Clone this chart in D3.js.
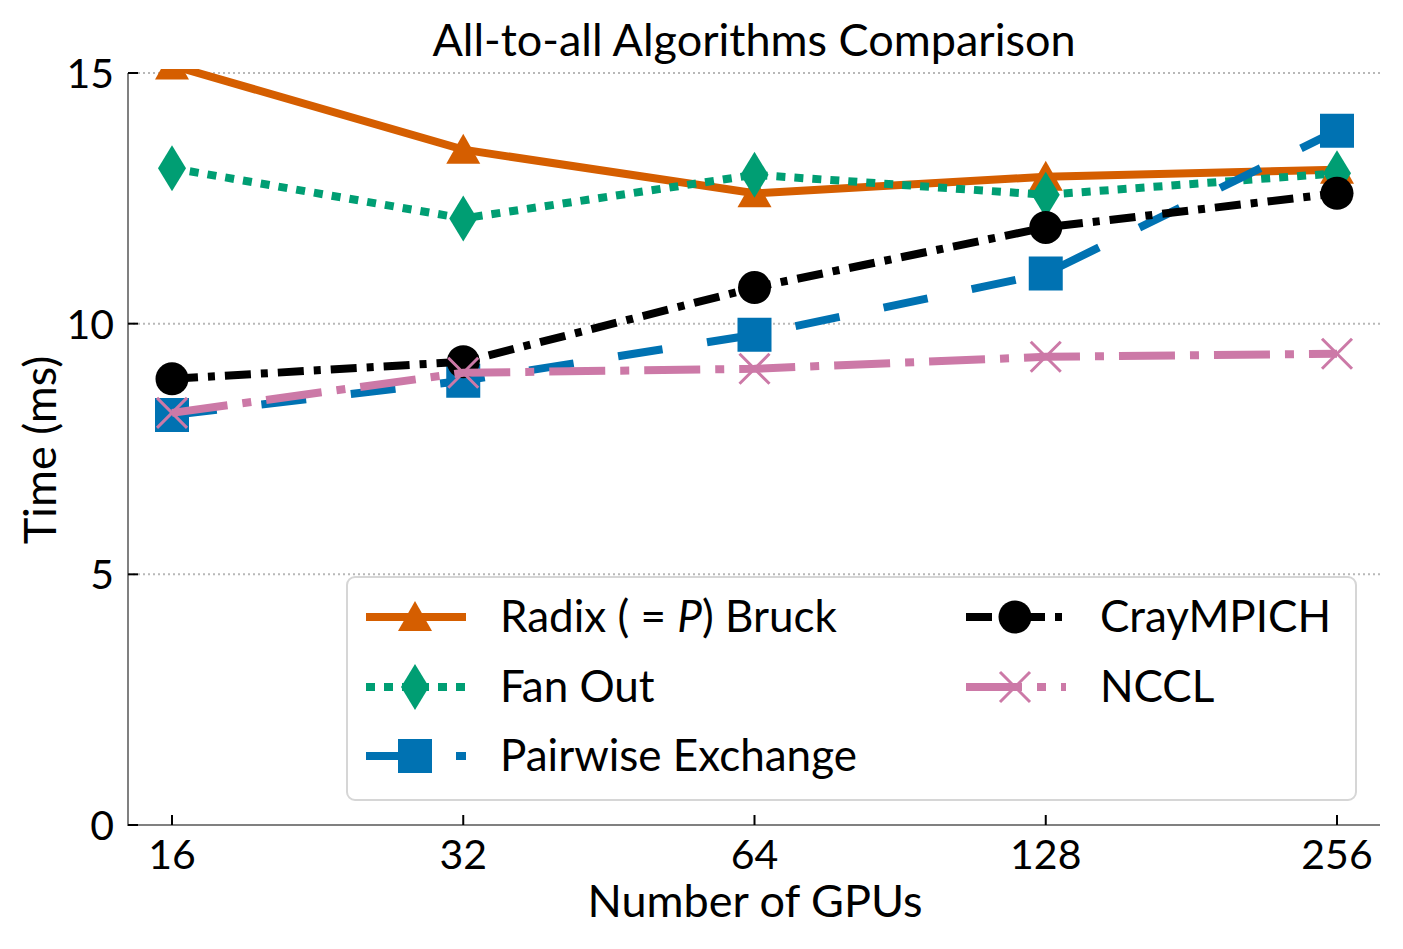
<!DOCTYPE html>
<meta charset="utf-8">
<head>
<style>
body {
  margin: 0;
  background: #fff;
  font-family: 'Lato', 'Open Sans', sans-serif;
}
text {
  fill: #000;
}
.grid line {
  stroke: #b8b8b8;
  stroke-width: 2;
  stroke-dasharray: 2,3;
}
.spine {
  stroke: #808080;
  stroke-width: 2;
}
</style>
</head>
<body>
<div id="chart"></div>
<script src="https://d3js.org/d3.v7.min.js"></script>
<script>

var gpus = [16, 32, 64, 128, 256];
var yTicks = [0, 5, 10, 15];

var radix    = [15.15, 13.47, 12.6, 12.93, 13.07];
var fanOut   = [13.1, 12.1, 12.97, 12.57, 13.0];
var pairwise = [8.18, 8.86, 9.78, 11.0, 13.85];
var cray     = [8.9, 9.24, 10.72, 11.92, 12.6];
var nccl     = [8.22, 9.02, 9.1, 9.34, 9.4];

var series = [
  {name: "radix", values: radix, color: "#D55E00", dash: null, marker: "triangle"},
  {name: "Fan Out", values: fanOut, color: "#009E73", dash: "9,9", marker: "diamond"},
  {name: "Pairwise Exchange", values: pairwise, color: "#0072B2", dash: "45,45", marker: "square"},
  {name: "CrayMPICH", values: cray, color: "#000000", dash: "26,10,7,10", marker: "circle"},
  {name: "NCCL", values: nccl, color: "#CC79A7", dash: "56,15,9,15", marker: "x"}
];

var W = 1403, H = 949;
var plotL = 128, plotR = 1380, plotT = 73, plotB = 825;

var x = d3.scaleLog().base(2)
    .domain([16, 256])
    .range([172, 1337]);

var y = d3.scaleLinear()
    .domain([0, 15])
    .range([plotB, plotT]);

var svg = d3.select("#chart").append("svg")
    .attr("width", W)
    .attr("height", H);

svg.append("defs").append("clipPath")
    .attr("id", "clip")
  .append("rect")
    .attr("x", plotL)
    .attr("y", plotT - 4)
    .attr("width", plotR - plotL)
    .attr("height", plotB - plotT + 4);

// grid
svg.append("g")
    .attr("class", "grid")
  .selectAll("line")
    .data(yTicks.filter(function(d) { return d > 0; }))
  .enter().append("line")
    .attr("x1", plotL)
    .attr("x2", plotR)
    .attr("y1", function(d) { return y(d); })
    .attr("y2", function(d) { return y(d); });

function markerPath(type) {
  if (type == "triangle") return "M0,-16L17,14L-17,14Z";
  if (type == "diamond") return "M0,-23L14,0L0,23L-14,0Z";
  if (type == "square") return "M-17,-17H17V17H-17Z";
  if (type == "x") return "M-15,-15L15,15M-15,15L15,-15";
  return null;
}

function drawMarker(g, type, color, cx, cy) {
  if (type == "circle") {
    g.append("circle")
        .attr("cx", cx).attr("cy", cy).attr("r", 16.5)
        .attr("fill", color);
  } else if (type == "x") {
    g.append("path")
        .attr("d", markerPath(type))
        .attr("transform", "translate(" + cx + "," + cy + ")")
        .attr("fill", "none")
        .attr("stroke", color)
        .attr("stroke-width", 3);
  } else {
    g.append("path")
        .attr("d", markerPath(type))
        .attr("transform", "translate(" + cx + "," + cy + ")")
        .attr("fill", color);
  }
}

var line = d3.line()
    .x(function(d, i) { return x(gpus[i]); })
    .y(function(d) { return y(d); });

var plot = svg.append("g").attr("clip-path", "url(#clip)");

series.forEach(function(s) {
  var g = plot.append("g");
  g.append("path")
      .attr("d", line(s.values))
      .attr("fill", "none")
      .attr("stroke", s.color)
      .attr("stroke-width", 8)
      .attr("stroke-dasharray", s.dash);
  s.values.forEach(function(v, i) {
    drawMarker(g, s.marker, s.color, x(gpus[i]), y(v));
  });
});

// spines and ticks
svg.append("line").attr("class", "spine")
    .attr("x1", plotL).attr("x2", plotL).attr("y1", plotT).attr("y2", plotB + 1);
svg.append("line").attr("class", "spine")
    .attr("x1", plotL - 1).attr("x2", plotR).attr("y1", plotB).attr("y2", plotB);

svg.append("g").selectAll("line")
    .data(yTicks)
  .enter().append("line")
    .attr("x1", plotL).attr("x2", plotL + 10)
    .attr("y1", function(d) { return y(d); })
    .attr("y2", function(d) { return y(d); })
    .attr("stroke", "#000").attr("stroke-width", 2);

svg.append("g").selectAll("text")
    .data(yTicks)
  .enter().append("text")
    .attr("x", 114)
    .attr("y", function(d) { return y(d) + 15; })
    .attr("text-anchor", "end")
    .style("font-size", "41px")
    .text(function(d) { return d; });

svg.append("g").selectAll("line")
    .data(gpus)
  .enter().append("line")
    .attr("x1", function(d) { return x(d); })
    .attr("x2", function(d) { return x(d); })
    .attr("y1", plotB).attr("y2", plotB - 10)
    .attr("stroke", "#000").attr("stroke-width", 2);

svg.append("g").selectAll("text")
    .data(gpus)
  .enter().append("text")
    .attr("x", function(d) { return x(d); })
    .attr("y", 869)
    .attr("text-anchor", "middle")
    .style("font-size", "41px")
    .text(function(d) { return d; });

// labels
svg.append("text")
    .attr("x", 754).attr("y", 56)
    .attr("text-anchor", "middle")
    .style("font-size", "45px")
    .text("All-to-all Algorithms Comparison");

svg.append("text")
    .attr("x", 755).attr("y", 917)
    .attr("text-anchor", "middle")
    .style("font-size", "45px")
    .text("Number of GPUs");

svg.append("text")
    .attr("transform", "translate(56,450) rotate(-90)")
    .attr("text-anchor", "middle")
    .style("font-size", "45px")
    .text("Time (ms)");

// legend
var legend = svg.append("g");
legend.append("rect")
    .attr("x", 347).attr("y", 577)
    .attr("width", 1009).attr("height", 223)
    .attr("rx", 8)
    .attr("fill", "#fff").attr("fill-opacity", 0.85)
    .attr("stroke", "#d6d6d6").attr("stroke-width", 2);

var legendPos = [
  {x: 366, y: 617}, {x: 366, y: 687}, {x: 366, y: 756},
  {x: 966, y: 617}, {x: 966, y: 687}
];

series.forEach(function(s, i) {
  var p = legendPos[i];
  var g = legend.append("g");
  g.append("line")
      .attr("x1", p.x).attr("x2", p.x + 100)
      .attr("y1", p.y).attr("y2", p.y)
      .attr("stroke", s.color)
      .attr("stroke-width", 8)
      .attr("stroke-dasharray", s.dash);
  drawMarker(g, s.marker, s.color, p.x + 49, p.y);
  var t = g.append("text")
      .attr("x", p.x + 134)
      .attr("y", p.y + 15)
      .style("font-size", "44px")
      .style("white-space", "pre");
  if (s.name == "radix") {
    t.append("tspan").text("Radix ( = ");
    t.append("tspan").style("font-style", "italic").text("P");
    t.append("tspan").text(") Bruck");
  } else {
    t.text(s.name);
  }
});

</script>
</body>
